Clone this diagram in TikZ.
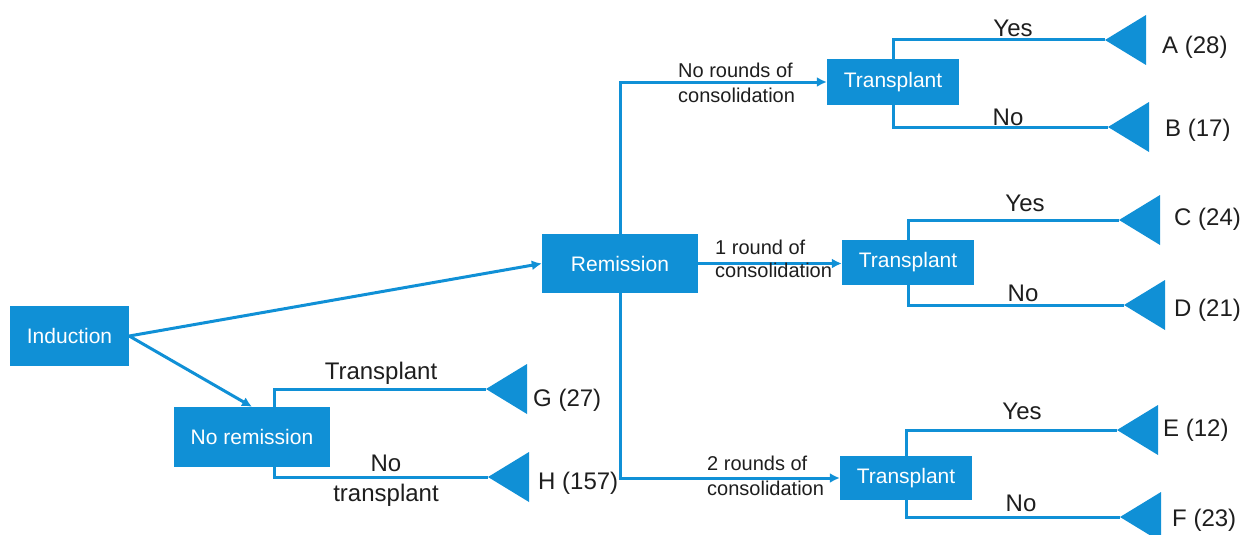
\documentclass[tikz,border=0pt]{standalone}
\usepackage{fontspec}
\setmainfont{Liberation Sans}
\usetikzlibrary{arrows.meta}
\definecolor{tblue}{RGB}{16,144,214}
\definecolor{ttext}{RGB}{30,30,30}
\begin{document}
\begin{tikzpicture}[x=1pt,y=-1pt,
  box/.style={fill=tblue,text=white,inner sep=0pt,font=\fontsize{21}{25}\selectfont},
  conn/.style={draw=tblue,line width=3pt},
  arr/.style={conn,-{Latex[length=10pt,width=10pt]}},
  tri/.style={fill=tblue},
  lab/.style={text=ttext,font=\fontsize{24}{28}\selectfont,inner sep=0pt},
  outc/.style={lab,anchor=west},
  small/.style={text=ttext,font=\fontsize{20}{25}\selectfont,inner sep=0pt,align=left,anchor=west}]
\useasboundingbox (0,0) rectangle (1244,535);

% boxes
\node[box,minimum width=119pt,minimum height=60pt] (ind) at (69.5,336) {Induction};
\node[box,minimum width=156pt,minimum height=60pt] (nrem) at (252,437) {No remission};
\node[box,minimum width=156pt,minimum height=59pt] (rem) at (620,263.5) {Remission};
\node[box,minimum width=132pt,minimum height=46pt] (t1) at (893,82) {Transplant};
\node[box,minimum width=132pt,minimum height=45pt] (t2) at (908,262.5) {Transplant};
\node[box,minimum width=132pt,minimum height=44pt] (t3) at (906,478) {Transplant};

% terminal tips
\coordinate (tA) at (1105,40);
\coordinate (tB) at (1108,127);
\coordinate (tC) at (1119,220);
\coordinate (tD) at (1124,305);
\coordinate (tE) at (1117,430);
\coordinate (tF) at (1120,517);
\coordinate (tG) at (486,389);
\coordinate (tH) at (488,477);

% connectors
\draw[arr] (ind.east) -- (rem.west);
\draw[arr] (ind.east) -- (nrem.north);
\draw[arr] (rem.north) |- (t1.west);
\draw[arr] (rem.south) |- (t3.west);
\draw[arr] (rem.east) -- (rem.east -| t2.west);
\draw[conn] (t1.north) |- (tA);
\draw[conn] (t1.south) |- (tB);
\draw[conn] (t2.north) |- (tC);
\draw[conn] (t2.south) |- (tD);
\draw[conn] (t3.north) |- (tE);
\draw[conn] (t3.south) |- (tF);
\draw[conn] ([xshift=22pt]nrem.north) |- (tG);
\draw[conn] ([xshift=22pt]nrem.south) |- (tH);

% terminal triangles
\foreach \t in {tA,tB,tC,tD,tE,tF,tG,tH}
  \fill[tri] (\t) -- ++(41,-25) -- ++(0,50) -- cycle;

% outcome labels
\node[outc] (lA) at (1162,47) {A (28)};
\node[outc] (lB) at (1165,130) {B (17)};
\node[outc] (lC) at (1174,219) {C (24)};
\node[outc] (lD) at (1174,310) {D (21)};
\node[outc] (lE) at (1163,430) {E (12)};
\node[outc] (lF) at (1172,520) {F (23)};
\node[outc] (lG) at (533,400) {G (27)};
\node[outc] (lH) at (538,483) {H (157)};

% branch labels
\node[lab] (yA) at (1013,28) {Yes};
\node[lab] (nB) at (1008,117) {No};
\node[lab] (yC) at (1025,203) {Yes};
\node[lab] (nD) at (1023,293) {No};
\node[lab] (yE) at (1022,411) {Yes};
\node[lab] (nF) at (1021,503) {No};
\node[lab] (gT) at (381,373) {Transplant};
\node[lab,align=center,font=\fontsize{24}{30}\selectfont] (hT) at (386,481) {No\\transplant};
\node[small] (c0) at (678,83) {No rounds of\\consolidation};
\node[small,font=\fontsize{20}{23}\selectfont] (c1) at (715,258.5) {1 round of\\consolidation};
\node[small] (c2) at (707,475.5) {2 rounds of\\consolidation};
\end{tikzpicture}
\end{document}
